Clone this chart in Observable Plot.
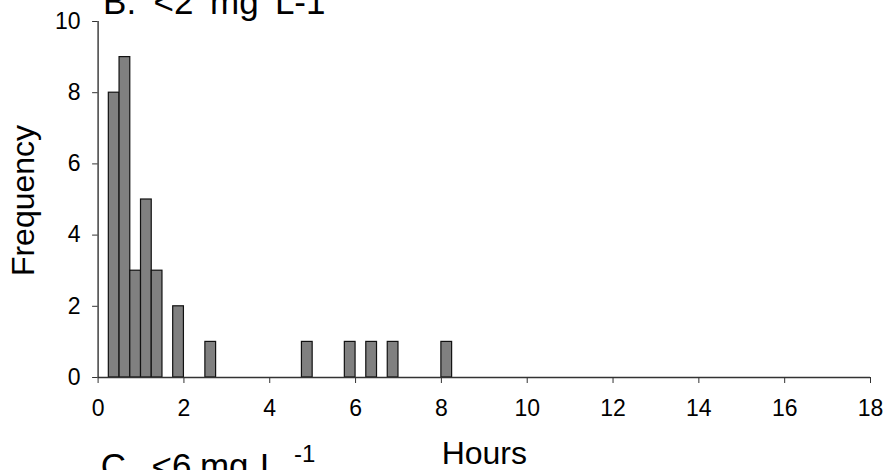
<!DOCTYPE html>
<html>
<head>
<meta charset="utf-8">
<script src="https://cdn.jsdelivr.net/npm/d3@7"></script>
<script src="https://cdn.jsdelivr.net/npm/@observablehq/plot@0.6"></script>
<style>
  html, body { margin: 0; padding: 0; background: #fff; overflow: hidden; }
  #chart { width: 884px; height: 470px; }
</style>
</head>
<body>
<div id="chart"></div>
<script>
// Histogram bins (hours)
const binLow  = [0.25, 0.5, 0.75, 1.0, 1.25, 1.75, 2.5, 4.75, 5.75, 6.25, 6.75, 8.0];
const binHigh = [0.5, 0.75, 1.0, 1.25, 1.5, 2.0, 2.75, 5.0, 6.0, 6.5, 7.0, 8.25];
const counts  = [8, 9, 3, 5, 3, 2, 1, 1, 1, 1, 1, 1];

const xTicks = [0, 2, 4, 6, 8, 10, 12, 14, 16, 18];
const yTicks = [0, 2, 4, 6, 8, 10];

const xLabel = "Hours";
const yLabel = "Frequency";
const titleB = ["B.", "<2", "mg", "L-1"];
const titleC = ["C.", "<6", "mg", "L"];
const titleCSup = "-1";

const bins = binLow.map((lo, i) => ({lo, hi: binHigh[i], n: counts[i]}));

const FONT = "'Liberation Sans', Arial, Helvetica, sans-serif";
const txt = (s, frameAnchor, dx, dy, fontSize, extra = {}) =>
  Plot.text([s], {frameAnchor, text: d => d, dx, dy, fontSize,
    textAnchor: "start", lineAnchor: "middle", fill: "#000", ...extra});

const chart = Plot.plot({
  width: 884,
  height: 470,
  marginLeft: 97.6,
  marginRight: 14,
  marginTop: 21,
  marginBottom: 93,
  style: {fontFamily: FONT, fontSize: "22px", color: "#000", background: "#fff", overflow: "visible"},
  x: {domain: [0, 18]},
  y: {domain: [0, 10]},
  marks: [
    Plot.rectY(bins, {x1: "lo", x2: "hi", y: "n", fill: "#808080", stroke: "#111", strokeWidth: 1.2}),
    Plot.ruleY([0], {stroke: "#333", strokeWidth: 1.4}),
    Plot.ruleX([0], {stroke: "#333", strokeWidth: 1.4}),
    Plot.axisX({ticks: xTicks, tickSize: 6, tickFormat: () => "", label: null, stroke: "#333"}),
    Plot.axisY({ticks: yTicks, tickSize: 5.5, tickFormat: () => "", label: null, stroke: "#333"}),
    // tick labels
    Plot.text(xTicks, {x: d => d, frameAnchor: "bottom", text: d => String(d), lineAnchor: "top",
      textAnchor: "middle", dy: 22, fontSize: 23, fill: "#000"}),
    Plot.text(yTicks, {y: d => d, frameAnchor: "left", text: d => String(d), lineAnchor: "middle",
      textAnchor: "end", dx: -17.6, fontSize: 23, fill: "#000"}),
    // axis titles
    txt(xLabel, "bottom", 0, 75.8, 32, {textAnchor: "middle"}),
    txt(yLabel, "left", -74.8, 1, 32, {textAnchor: "middle", rotate: -90}),
    // panel title B (top, partly cut)
    txt(titleB[0], "top-left", 5, -18.5, 35),
    txt(titleB[1], "top-left", 55.4, -18.5, 35),
    txt(titleB[2], "top-left", 112, -18.5, 35),
    txt(titleB[3], "top-left", 176.8, -18.5, 35),
    // next panel title C (bottom, partly cut)
    txt(titleC[0], "bottom-left", 2.7, 88.8, 35),
    txt(titleC[1], "bottom-left", 53.4, 88.8, 35),
    txt(titleC[2], "bottom-left", 101.8, 88.8, 35),
    txt(titleC[3], "bottom-left", 161.8, 88.8, 35),
    txt(titleCSup, "bottom-left", 195.8, 77.3, 24)
  ]
});
document.getElementById("chart").appendChild(chart);
</script>
</body>
</html>
